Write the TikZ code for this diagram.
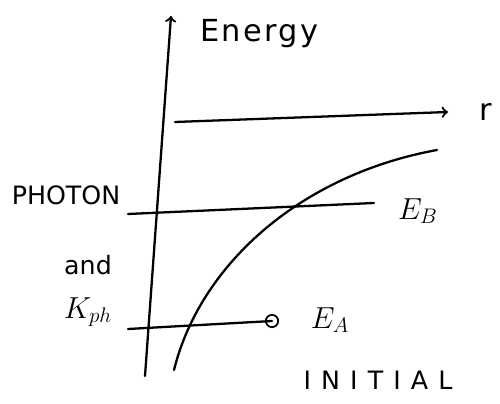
\documentclass[tikz,border=0pt]{standalone}
\usepackage{fontspec}
\setmainfont{DejaVu Sans}
\usetikzlibrary{arrows,positioning}

\begin{document}
\begin{tikzpicture}[
  x=0.02cm,y=-0.02cm,
  pen/.style={line width=1.3pt,line cap=round},
  label/.style={inner sep=1pt,font=\Large},
  level/.style={pen},
]
  \useasboundingbox (0,0) rectangle (500,404);

  % axes
  \coordinate (O) at (145,376);
  \coordinate (Etop) at (171,16);
  \coordinate (rstart) at (175,122);
  \coordinate (rend) at (448,112);
  \draw[pen,-to] (O) -- (Etop);
  \draw[pen,-to] (rstart) -- (rend);
  \node[label,font=\LARGE,anchor=west] (energy) at (198,34) {\addfontfeature{LetterSpace=8}Energy};
  \node[label,font=\LARGE] (r) at (486,112) {r};

  % levels
  \coordinate (Bl) at (128,214);
  \coordinate (Br) at (374,203);
  \coordinate (Al) at (128,329);
  \node[draw,circle,line width=1pt,minimum size=7pt,inner sep=0pt] (dot) at (272,321) {};
  \draw[level] (Bl) -- (Br);
  \draw[level] (Al) -- (dot.center);
  \node[label,font=\LARGE] (EB) at (418,211) {$E_B$};
  \node[label,font=\LARGE] (EA) at (330,320) {$E_A$};

  % potential curve
  \coordinate (c0) at (174,370);
  \coordinate (c1) at (437,150);
  \draw[pen] (c0) .. controls (200,265) and (300,175) .. (c1);

  % left labels
  \node[label] (photon) at (66,195) {PHOTON};
  \node[label] (and) at (88,265) {and};
  \node[label,font=\LARGE] (kph) at (88,312) {$K_{ph}$};
  \node[label] (initial) at (378,380) {\addfontfeature{LetterSpace=40}INITIAL};
\end{tikzpicture}
\end{document}
